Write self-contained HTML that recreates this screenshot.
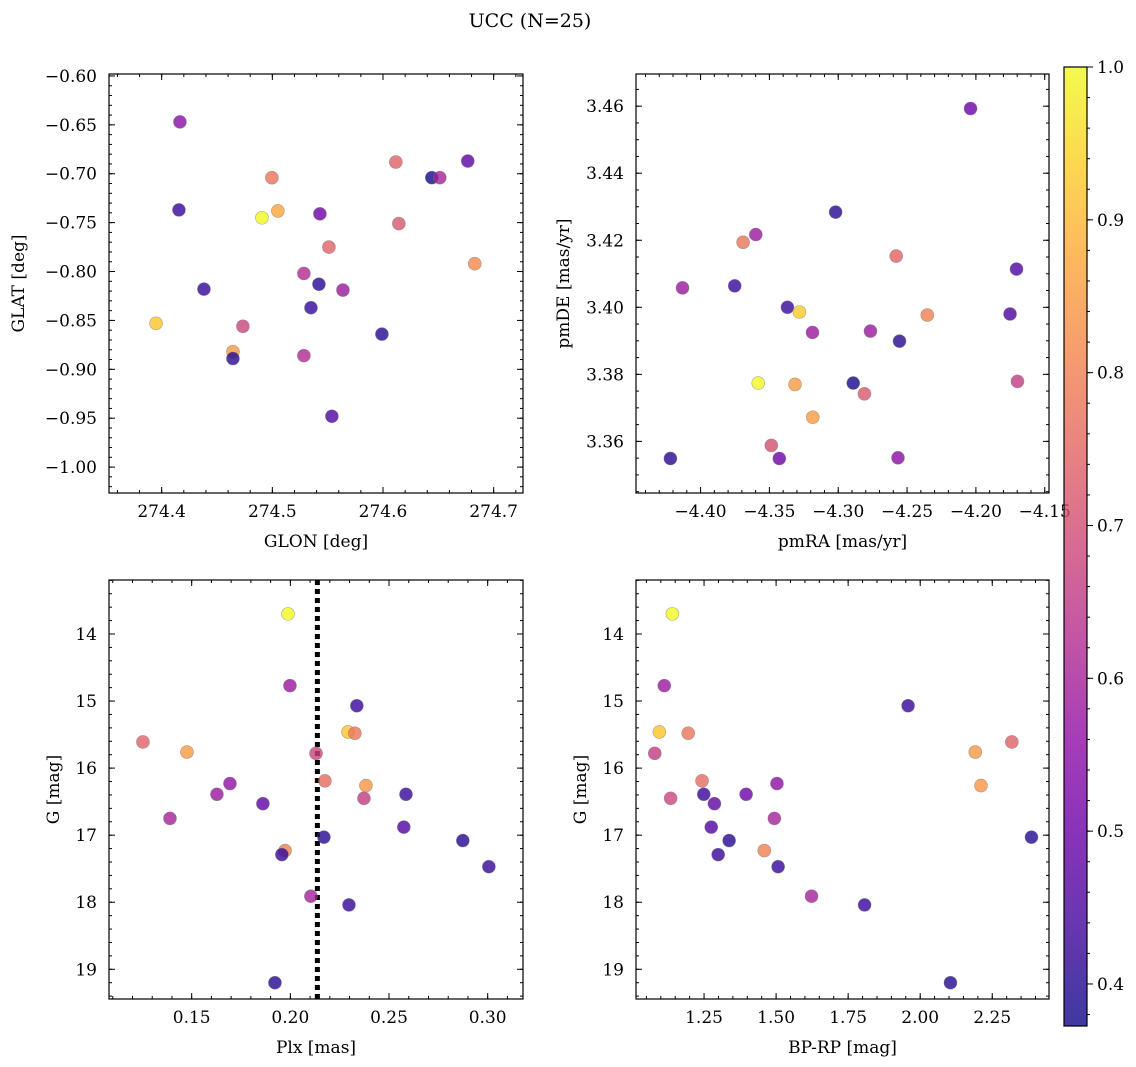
<!DOCTYPE html>
<html><head><meta charset="utf-8"><style>
html,body{margin:0;padding:0;background:#fff;}
svg{display:block;font-family:"DejaVu Serif","Liberation Serif",serif;}
</style></head><body>
<svg id="fig" width="1136" height="1067" viewBox="0 0 1136 1067" xmlns="http://www.w3.org/2000/svg">
<defs>
<linearGradient id="cbgrad" x1="0" y1="1" x2="0" y2="0">
<stop offset="0" stop-color="#0d0887"/><stop offset="0.1" stop-color="#41049d"/><stop offset="0.2" stop-color="#6a00a8"/><stop offset="0.3" stop-color="#8f0da4"/><stop offset="0.4" stop-color="#b12a90"/><stop offset="0.5" stop-color="#cc4778"/><stop offset="0.6" stop-color="#e16462"/><stop offset="0.7" stop-color="#f2844b"/><stop offset="0.8" stop-color="#fca636"/><stop offset="0.9" stop-color="#fcce25"/><stop offset="1" stop-color="#f0f921"/>
</linearGradient>
</defs>
<text x="530" y="27" font-size="19" text-anchor="middle">UCC (N=25)</text>
</svg>
<script>
// ---- data ----
const p1GLON=[274.4165,274.4156,274.4382,274.3949,274.4734,274.4644,274.4644,274.4906,274.4996,274.5050,274.5285,274.5285,274.5430,274.5421,274.5349,274.5511,274.5638,274.5538,274.5990,274.6116,274.6143,274.6441,274.6513,274.6766,274.6829];
const p1GLAT=[-0.647,-0.737,-0.818,-0.853,-0.856,-0.882,-0.889,-0.745,-0.704,-0.738,-0.802,-0.886,-0.741,-0.813,-0.837,-0.775,-0.819,-0.948,-0.864,-0.688,-0.751,-0.704,-0.704,-0.687,-0.792];
const p1Prob=[0.55,0.42,0.42,0.92,0.68,0.85,0.40,1.0,0.78,0.87,0.62,0.62,0.50,0.40,0.42,0.74,0.58,0.45,0.40,0.74,0.72,0.38,0.60,0.48,0.82];
const p2pmRA=[-4.2039,-4.3019,-4.3599,-4.3691,-4.2579,-4.1705,-4.4131,-4.3752,-4.3369,-4.3282,-4.2353,-4.1752,-4.3187,-4.2766,-4.2555,-4.3581,-4.3314,-4.2891,-4.1698,-4.2810,-4.3185,-4.3486,-4.4219,-4.3428,-4.2566];
const p2pmDE=[3.4593,3.4284,3.4217,3.4194,3.4153,3.4114,3.4058,3.4064,3.4000,3.3986,3.3977,3.3980,3.3925,3.3929,3.3899,3.3774,3.3770,3.3774,3.3779,3.3742,3.3672,3.3588,3.3549,3.3549,3.3551];
const p2Prob=[0.50,0.40,0.58,0.78,0.74,0.45,0.58,0.42,0.42,0.93,0.80,0.45,0.58,0.58,0.40,1.0,0.85,0.38,0.66,0.72,0.85,0.70,0.40,0.50,0.55];
const p3Plx=[0.1988,0.1998,0.1253,0.1476,0.2337,0.2292,0.2327,0.2130,0.2175,0.2383,0.2373,0.2586,0.1694,0.1628,0.1861,0.1390,0.2575,0.2874,0.3006,0.2170,0.1973,0.1957,0.2104,0.2297,0.1922];
const p3G=[13.70,14.77,15.61,15.76,15.07,15.46,15.48,15.78,16.19,16.26,16.45,16.39,16.23,16.39,16.53,16.75,16.88,17.08,17.47,17.03,17.23,17.29,17.91,18.04,19.20];
const p3Prob=[1.0,0.58,0.74,0.85,0.42,0.92,0.78,0.68,0.76,0.84,0.66,0.42,0.56,0.58,0.48,0.60,0.46,0.40,0.42,0.40,0.80,0.42,0.60,0.42,0.40];
const p3PlxLine=[0.2137];
const p4BPRP=[1.140,1.112,1.095,1.195,1.079,1.958,2.191,2.318,2.211,1.134,1.243,1.249,1.396,1.503,1.286,1.494,1.275,1.337,1.459,1.299,1.507,2.386,1.623,1.807,2.105];
const p4G=[13.70,14.77,15.46,15.48,15.78,15.07,15.76,15.61,16.26,16.45,16.19,16.39,16.39,16.23,16.53,16.75,16.88,17.08,17.23,17.29,17.47,17.03,17.91,18.04,19.20];
const p4Prob=[1.0,0.58,0.92,0.78,0.66,0.42,0.85,0.74,0.84,0.68,0.76,0.42,0.50,0.56,0.48,0.60,0.46,0.40,0.80,0.42,0.42,0.40,0.60,0.42,0.40];
const cbTicks=[0.4,0.5,0.6,0.7,0.8,0.9,1.0];

const NS='http://www.w3.org/2000/svg';
const svg=document.getElementById('fig');
const VMIN=0.3725,VMAX=1.0;
const FS=17;
const stops=['#0d0887','#41049d','#6a00a8','#8f0da4','#b12a90','#cc4778','#e16462','#f2844b','#fca636','#fcce25','#f0f921'];
function hex(h){return [1,3,5].map(i=>parseInt(h.substr(i,2),16));}
function plasma(v){let t=Math.max(0,Math.min(1,(v-VMIN)/(VMAX-VMIN)))*10;let i=Math.min(9,Math.floor(t)),f=t-i;const a=hex(stops[i]),b=hex(stops[i+1]);return 'rgb('+a.map((c,k)=>Math.round(c+(b[k]-c)*f)).join(',')+')';}
function mk(tag,attrs,parent){const e=document.createElementNS(NS,tag);for(const k in attrs)e.setAttribute(k,attrs[k]);(parent||svg).appendChild(e);return e;}

function panel(o){
  const g=mk('g',{});
  
  
  const sx=v=>o.x0+(v-o.xmin)/(o.xmax-o.xmin)*(o.x1-o.x0);
  const sy=o.yinv? (v=>o.y0+(v-o.ymin)/(o.ymax-o.ymin)*(o.y1-o.y0)) : (v=>o.y1-(v-o.ymin)/(o.ymax-o.ymin)*(o.y1-o.y0));
  const eps=1e-9;
  function ticksX(step,len,label,dec){const s=Math.ceil(o.xmin/step-eps);for(let k=s;k*step<=o.xmax+eps;k++){const v=k*step,x=sx(v);mk('line',{x1:x,x2:x,y1:o.y1,y2:o.y1-len,stroke:'#000','stroke-width':1},g);mk('line',{x1:x,x2:x,y1:o.y0,y2:o.y0+len,stroke:'#000','stroke-width':1},g);if(label){const t=mk('text',{x:x,y:o.y1+24,'font-size':FS,'text-anchor':'middle'},g);t.textContent=v.toFixed(dec).replace('-','\u2212');}}}
  function ticksY(step,len,label,dec){const s=Math.ceil(o.ymin/step-eps);for(let k=s;k*step<=o.ymax+eps;k++){const v=k*step,y=sy(v);mk('line',{x1:o.x0,x2:o.x0+len,y1:y,y2:y,stroke:'#000','stroke-width':1},g);mk('line',{x1:o.x1,x2:o.x1-len,y1:y,y2:y,stroke:'#000','stroke-width':1},g);if(label){const t=mk('text',{x:o.x0-12,y:y+6,'font-size':FS,'text-anchor':'end'},g);t.textContent=v.toFixed(dec).replace('-','\u2212');}}}
  ticksX(o.xmaj/o.xminor,3,false);ticksX(o.xmaj,6,true,o.xdec);
  ticksY(o.ymaj/o.yminor,3,false);ticksY(o.ymaj,6,true,o.ydec);
  if(o.vline){o.vline.forEach(v=>{const l=mk('line',{x1:sx(v),x2:sx(v),y1:o.y0,y2:o.y1,stroke:'#000','stroke-width':5,'stroke-dasharray':'5,4'},g);});}
  o.xs.forEach((xv,i)=>{const c=mk('circle',{cx:sx(xv),cy:sy(o.ys[i]),r:6.5,fill:plasma(o.ps[i]),'fill-opacity':0.8,stroke:'#777','stroke-opacity':0.6,'stroke-width':0.6},g);});
  const fr=mk('rect',{x:o.x0,y:o.y0,width:o.x1-o.x0,height:o.y1-o.y0,fill:'none',stroke:'#000','stroke-width':1.2},g);
  
  const xl=mk('text',{x:(o.x0+o.x1)/2,y:o.y1+54,'font-size':FS,'text-anchor':'middle'},g);xl.textContent=o.xlabel;
  
  const yl=mk('text',{x:0,y:0,'font-size':FS,'text-anchor':'middle',transform:'translate('+o.ylx+','+((o.y0+o.y1)/2)+') rotate(-90)'},g);yl.textContent=o.ylabel;
  
}
panel({name:'glon-glat-panel',x0:109,x1:523,y0:74,y1:493,xmin:274.3524,xmax:274.7265,ymin:-1.0265,ymax:-0.598,xmaj:0.1,xminor:5,xdec:1,ymaj:0.05,yminor:5,ydec:2,xs:p1GLON,ys:p1GLAT,ps:p1Prob,xlabel:'GLON [deg]',ylabel:'GLAT [deg]',ylx:24});
panel({name:'proper-motion-panel',x0:636,x1:1049,y0:74,y1:493,xmin:-4.4469,xmax:-4.1469,ymin:3.3446,ymax:3.4696,xmaj:0.05,xminor:5,xdec:2,ymaj:0.02,yminor:4,ydec:2,xs:p2pmRA,ys:p2pmDE,ps:p2Prob,xlabel:'pmRA [mas/yr]',ylabel:'pmDE [mas/yr]',ylx:569});
panel({name:'parallax-mag-panel',x0:109,x1:523,y0:580,y1:999,xmin:0.1081,xmax:0.3179,ymin:13.195,ymax:19.443,yinv:true,xmaj:0.05,xminor:5,xdec:2,ymaj:1,yminor:5,ydec:0,xs:p3Plx,ys:p3G,ps:p3Prob,vline:p3PlxLine,xlabel:'Plx [mas]',ylabel:'G [mag]',ylx:59});
panel({name:'cmd-panel',x0:636,x1:1049,y0:580,y1:999,xmin:1.0139,xmax:2.4469,ymin:13.195,ymax:19.443,yinv:true,xmaj:0.25,xminor:5,xdec:2,ymaj:1,yminor:5,ydec:0,xs:p4BPRP,ys:p4G,ps:p4Prob,xlabel:'BP-RP [mag]',ylabel:'G [mag]',ylx:586});
// colorbar
const cb=mk('g',{});


const CB={x0:1064,x1:1087,y0:67,y1:1026};
mk('rect',{x:CB.x0,y:CB.y0,width:CB.x1-CB.x0,height:CB.y1-CB.y0,fill:'url(#cbgrad)','fill-opacity':0.8},cb);
const cy=v=>CB.y1-(v-VMIN)/(VMAX-VMIN)*(CB.y1-CB.y0);
for(let k=Math.ceil(VMIN/0.02-1e-9);k*0.02<=VMAX+1e-9;k++){const y=cy(k*0.02);mk('line',{x1:CB.x1,x2:CB.x1+3,y1:y,y2:y,stroke:'#000'},cb);}
cbTicks.forEach(v=>{const y=cy(v);mk('line',{x1:CB.x1,x2:CB.x1+6,y1:y,y2:y,stroke:'#000'},cb);const t=mk('text',{x:CB.x1+10,y:y+6,'font-size':FS},cb);t.textContent=v.toFixed(1);});
mk('rect',{x:CB.x0,y:CB.y0,width:CB.x1-CB.x0,height:CB.y1-CB.y0,fill:'none',stroke:'#000','stroke-width':1.2},cb);
</script>
</body></html>
